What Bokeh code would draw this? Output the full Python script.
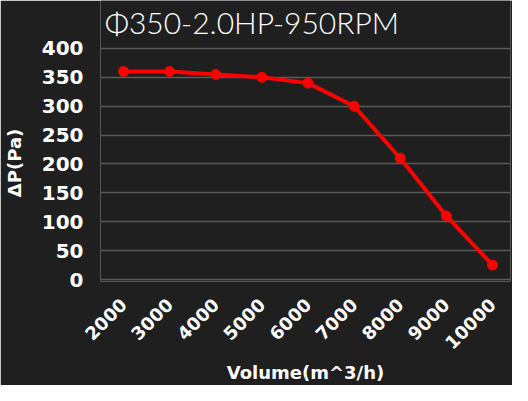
import math
from bokeh.plotting import figure
from bokeh.models import Range1d, FixedTicker, Label
from bokeh.embed import file_html
from bokeh.resources import INLINE

volume = [2000, 3000, 4000, 5000, 6000, 7000, 8000, 9000, 10000]
pressure = [360, 360, 355, 350, 340, 300, 210, 110, 25]
y_ticks = [0, 50, 100, 150, 200, 250, 300, 350, 400]
title_text = "Φ350-2.0HP-950RPM"
x_label = "Volume(m^3/h)"
y_label = "ΔP(Pa)"

p = figure(width=512, height=385, output_backend="svg", toolbar_location=None,
           x_range=Range1d(1500, 10390), y_range=Range1d(-3.4, 483),
           min_border_left=98, min_border_right=2, min_border_top=0, min_border_bottom=104)

bg = "#1f1f1f"
p.background_fill_color = bg
p.border_fill_color = bg
p.outline_line_color = None

title = Label(x=1590, y=446, text=title_text, text_color="white",
              text_font="Lato Light", text_font_size="30px",
              text_baseline="alphabetic", text_align="left")
p.add_layout(title)

p.xgrid.grid_line_color = None
p.ygrid.grid_line_color = "#5a5a5a"
p.ygrid.grid_line_width = 1.5

p.xaxis.ticker = FixedTicker(ticks=volume)
p.yaxis.ticker = FixedTicker(ticks=y_ticks)
for ax in (p.xaxis, p.yaxis):
    ax.axis_line_color = None
    ax.major_tick_line_color = None
    ax.minor_tick_line_color = None
    ax.major_label_text_color = "white"
    ax.major_label_text_font = "DejaVu Sans"
    ax.major_label_text_font_style = "bold"
    ax.axis_label_text_color = "white"
    ax.axis_label_text_font = "DejaVu Sans"
    ax.axis_label_text_font_style = "bold"
    ax.axis_label_text_font_size = "18px"

p.yaxis.major_label_text_font_size = "20px"
p.xaxis.major_label_text_font_size = "18px"
p.xaxis.major_label_orientation = math.pi / 4
p.xaxis.major_label_standoff = 14
p.yaxis.major_label_standoff = 11
p.xaxis.axis_label = x_label
# trailing no-break spaces keep the rotated label centred on the 0-400 scale
p.yaxis.axis_label = y_label + "\u00a0" * 7
p.xaxis.axis_label_standoff = 4
p.yaxis.axis_label_standoff = 14

p.line(volume, pressure, line_color="#ff0000", line_width=4)
p.scatter(volume, pressure, size=10, fill_color="#ff0000", line_color="#ff0000")

open("out.html", "w").write(file_html(p, INLINE))
